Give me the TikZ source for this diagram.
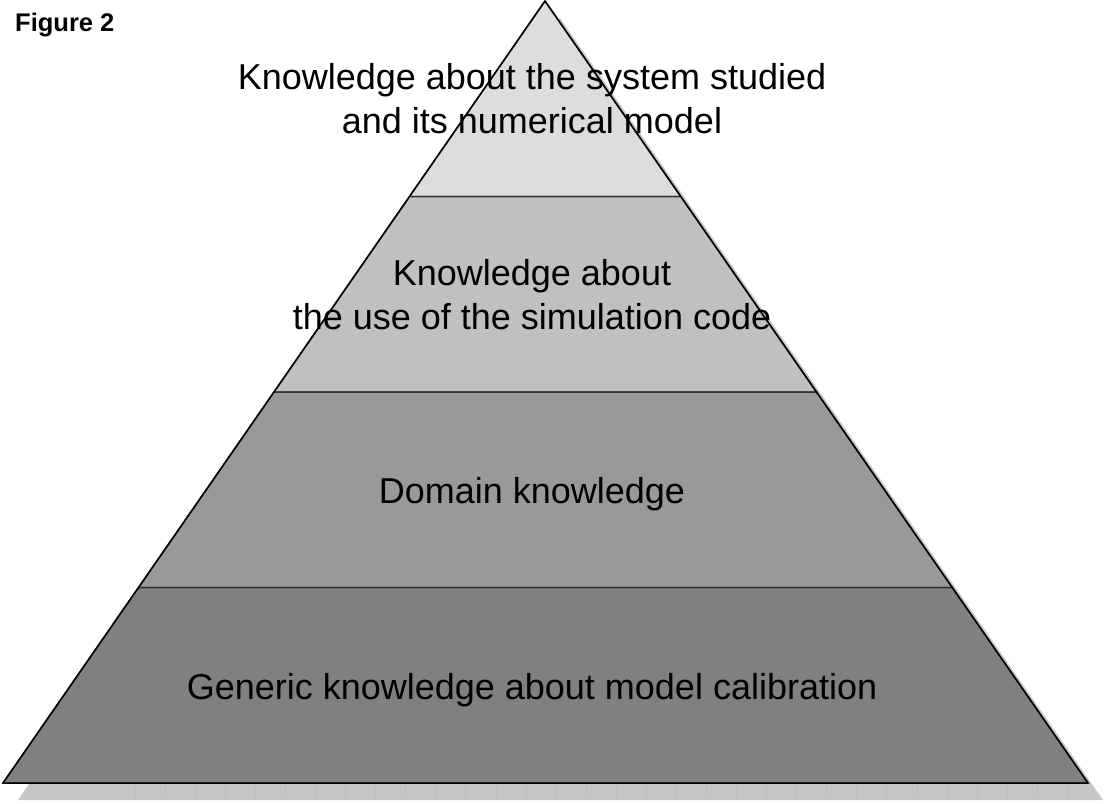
\documentclass[tikz,border=0pt]{standalone}
\usepackage{fontspec}
\setmainfont{Liberation Sans}
\usetikzlibrary{calc}

\definecolor{layerA}{HTML}{DDDDDD}
\definecolor{layerB}{HTML}{C0C0C0}
\definecolor{layerC}{HTML}{999999}
\definecolor{layerD}{HTML}{808080}
\definecolor{shadowgrey}{HTML}{C6C6C6}

\begin{document}
\begin{tikzpicture}[x=1pt, y=-1pt, layer/.style = {draw=black!80, line width=1.5pt},
    tier/.style = {align=center, anchor=base, font=\fontsize{36}{44}\selectfont}]
    \useasboundingbox (0,0) rectangle (1107,803);
    \coordinate (apex) at (545,1);
    \coordinate (bl) at (3,783);
    \coordinate (br) at (1088,783);

    % shadow with its tiled base
    \fill[shadowgrey] ([shift={(15,17)}]apex) -- ([shift={(15,17)}]bl) -- ([shift={(15,17)}]br) -- cycle;
    \foreach \k in {0,...,31}
      \draw[black!25, line width=0.6pt] (135+30.07*\k,784) -- (135+30.07*\k,799);

    \foreach \t/\b/\c in {0/0.25/layerA, 0.25/0.5/layerB, 0.5/0.75/layerC, 0.75/1/layerD}
      \filldraw[layer, fill=\c] ($(apex)!\t!(bl)$) -- ($(apex)!\b!(bl)$) -- ($(apex)!\b!(br)$) -- ($(apex)!\t!(br)$) -- cycle;
    \draw[line width=1.5pt, line join=round] (apex) -- (bl) -- (br) -- cycle;

    % multi-line nodes sit on the baseline of their last line
    \node[tier] (L1) at (532,133) {Knowledge about the system studied\\and its numerical model};
    \node[tier] (L2) at (532,329) {Knowledge about\\the use of the simulation code};
    \node[tier] (L3) at (532,503) {Domain knowledge};
    \node[tier] (L4) at (532,699) {Generic knowledge about model calibration};

    \node[font=\fontsize{25.5}{30}\selectfont\bfseries, anchor=base west, inner sep=0pt] (fig) at (15,31.5) {Figure 2};
\end{tikzpicture}
\end{document}
